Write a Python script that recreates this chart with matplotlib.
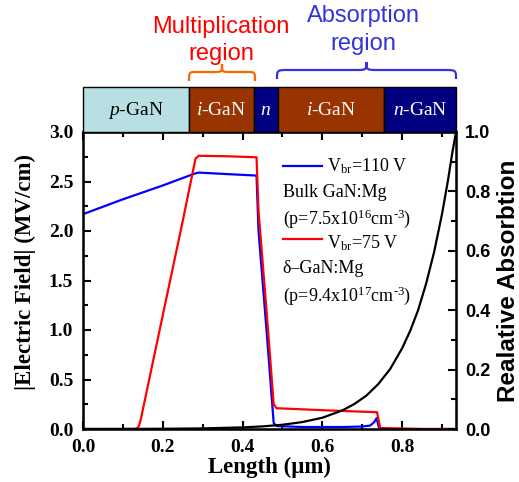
import matplotlib
matplotlib.use("Agg")
import matplotlib.pyplot as plt
from matplotlib.path import Path
from matplotlib.patches import PathPatch, Rectangle
from matplotlib.ticker import MultipleLocator

# field profiles (MV/cm)
x_blue = [0.0, 0.10, 0.20, 0.28, 0.29, 0.36, 0.435, 0.44, 0.46, 0.478, 0.485,
          0.55, 0.65, 0.70, 0.72, 0.73, 0.736, 0.742, 0.75, 0.85, 0.935]
e_blue = [2.17, 2.32, 2.46, 2.58, 2.59, 2.575, 2.56, 2.0, 1.0, 0.06, 0.03,
          0.02, 0.02, 0.025, 0.035, 0.07, 0.11, 0.01, 0.0, 0.0, 0.0]
x_red = [0.0, 0.13, 0.137, 0.141, 0.145, 0.20, 0.25, 0.282, 0.29, 0.36, 0.435,
         0.44, 0.46, 0.478, 0.485, 0.60, 0.733, 0.737, 0.745, 0.85, 0.935]
e_red = [0.0, 0.0, 0.01, 0.04, 0.1, 1.15, 2.1, 2.73, 2.76, 2.755, 2.745,
         2.2, 1.2, 0.25, 0.21, 0.19, 0.17, 0.17, 0.01, 0.0, 0.0]

# relative absorption
x_abs = [0.0, 0.1, 0.2, 0.3, 0.4, 0.45, 0.5, 0.55, 0.6, 0.65, 0.68, 0.71,
         0.74, 0.77, 0.80, 0.82, 0.84, 0.86, 0.88, 0.90, 0.915, 0.925, 0.935]
absorb = [0.0001, 0.0003, 0.0008, 0.002, 0.0054, 0.0088, 0.0143, 0.0234,
          0.038, 0.0625, 0.084, 0.112, 0.151, 0.202, 0.272, 0.33, 0.40,
          0.489, 0.595, 0.724, 0.838, 0.924, 1.0]

# layer stack
layer_edges = [0.0, 0.265, 0.428, 0.488, 0.755, 0.935]
layer_names = [r"$p$-GaN", r"$i$-GaN", r"$n$", r"$i$-GaN", r"$n$-GaN"]
layer_colors = ["#b8e0e2", "#993300", "#000080", "#993300", "#000080"]
layer_text = ["black", "white", "white", "white", "white"]

plt.rcParams["mathtext.fontset"] = "custom"
plt.rcParams["mathtext.rm"] = "Liberation Serif"
plt.rcParams["mathtext.it"] = "Liberation Serif:italic"

W, H = 519, 482
fig = plt.figure(figsize=(W / 100, H / 100), dpi=100)
L, R, T, B = 83, 456, 132, 429
ax = fig.add_axes([L / W, 1 - B / H, (R - L) / W, (B - T) / H])

serif = "Liberation Serif"
sans = "Liberation Sans"

ax.plot(x_blue, e_blue, color="blue", lw=1.6)
ax.plot(x_red, e_red, color="red", lw=1.6)
ax.set_xlim(0, 0.935)
ax.set_ylim(0, 3.0)
ax.xaxis.set_major_locator(MultipleLocator(0.2))
ax.xaxis.set_minor_locator(MultipleLocator(0.1))
ax.yaxis.set_major_locator(MultipleLocator(0.5))
ax.yaxis.set_minor_locator(MultipleLocator(0.25))
ax.tick_params(which="both", direction="in", top=True, width=1.5)
ax.tick_params(axis="y", which="both", right=False)
ax.tick_params(which="major", length=6)
ax.tick_params(which="minor", length=3.5)
ax.tick_params(axis="x", pad=7.5)
ax.tick_params(axis="y", pad=7)
for s in ax.spines.values():
    s.set_linewidth(1.8)
ax.set_xlabel("Length (\u03bcm)", fontfamily=serif, fontweight="bold",
              fontsize=16.5, labelpad=0)
ax.set_ylabel("|Electric Field| (MV/cm)", fontfamily=serif, fontweight="bold",
              fontsize=16.5)
ax.yaxis.set_label_coords(-0.125, 0.53)

ax2 = ax.twinx()
ax2.plot(x_abs, absorb, color="black", lw=1.6)
ax2.set_ylim(0, 1.0)
ax2.yaxis.set_major_locator(MultipleLocator(0.2))
ax2.yaxis.set_minor_locator(MultipleLocator(0.1))
ax2.tick_params(which="both", direction="in", width=1.5, pad=6.5)
ax2.tick_params(which="major", length=6)
ax2.tick_params(which="minor", length=3.5)
ax2.set_ylabel("Realative Absorbtion", fontfamily=sans, fontweight="bold",
               fontsize=17.5, labelpad=5)

for lab in ax.get_xticklabels() + ax.get_yticklabels():
    lab.set_fontfamily(serif)
    lab.set_fontweight("bold")
    lab.set_fontsize(14)
for lab in ax2.get_yticklabels():
    lab.set_fontfamily(sans)
    lab.set_fontweight("bold")
    lab.set_fontsize(13)

# legend block
def lg_line(y, c):
    ax.plot([0.535, 0.64], [y, y], color=c, lw=1.6, transform=ax.transAxes,
            clip_on=False)

def lg_text(x, y, s):
    ax.text(x, y, s, transform=ax.transAxes, fontfamily=serif, fontsize=13,
            va="center", ha="left")

lg_line(0.885, "blue")
lg_text(0.655, 0.885, r"V$_{\mathrm{br}}$=110 V")
lg_text(0.535, 0.797, "Bulk GaN:Mg")
lg_text(0.535, 0.707, r"(p=7.5x10$^{16}$cm$^{\text{-}3}$)")
lg_line(0.640, "red")
lg_text(0.655, 0.625, r"V$_{\mathrm{br}}$=75 V")
lg_text(0.535, 0.540, "\u03b4\u2013GaN:Mg")
lg_text(0.535, 0.450, r"(p=9.4x10$^{17}$cm$^{\text{-}3}$)")

# layer boxes above the plot
axl = fig.add_axes([L / W, 1 - T / H, (R - L) / W, 45 / H])
axl.set_xlim(0, 0.935)
axl.set_ylim(0, 1)
axl.axis("off")
for i, name in enumerate(layer_names):
    x0, x1 = layer_edges[i], layer_edges[i + 1]
    axl.add_patch(Rectangle((x0, 0), x1 - x0, 1, facecolor=layer_colors[i],
                            edgecolor="black", lw=1.0, clip_on=False))
    axl.text((x0 + x1) / 2, 0.47, name, ha="center", va="center",
             fontfamily=serif, fontsize=14, color=layer_text[i])

# annotations in pixel coordinates
axo = fig.add_axes([0, 0, 1, 1])
axo.set_xlim(0, W)
axo.set_ylim(H, 0)
axo.axis("off")

def brace(x0, x1, y_end, y_mid, y_tip, color, r=9):
    m = (x0 + x1) / 2
    verts = [(x0, y_end), (x0, y_mid), (x0, y_mid), (x0 + r, y_mid),
             (m - r, y_mid), (m, y_mid), (m, y_mid), (m, y_tip),
             (m, y_mid), (m, y_mid), (m + r, y_mid),
             (x1 - r, y_mid), (x1, y_mid), (x1, y_mid), (x1, y_end)]
    codes = [Path.MOVETO, Path.CURVE4, Path.CURVE4, Path.CURVE4,
             Path.LINETO, Path.CURVE4, Path.CURVE4, Path.CURVE4,
             Path.CURVE4, Path.CURVE4, Path.CURVE4,
             Path.LINETO, Path.CURVE4, Path.CURVE4, Path.CURVE4]
    axo.add_patch(PathPatch(Path(verts, codes), facecolor="none",
                            edgecolor=color, lw=1.6))

brace(189, 255, 81, 72, 64, "#ff6600", r=8)
brace(277, 456, 79, 70, 62, "#3333dd", r=12)
axo.text(221, 27, "Multiplication", ha="center", va="center",
         fontfamily=sans, fontsize=17, color="red")
axo.text(221, 54, "region", ha="center", va="center",
         fontfamily=sans, fontsize=17, color="red")
axo.text(363, 16, "Absorption", ha="center", va="center",
         fontfamily=sans, fontsize=17, color="#3333dd")
axo.text(363, 44, "region", ha="center", va="center",
         fontfamily=sans, fontsize=17, color="#3333dd")

fig.savefig("out.png", dpi=100)
